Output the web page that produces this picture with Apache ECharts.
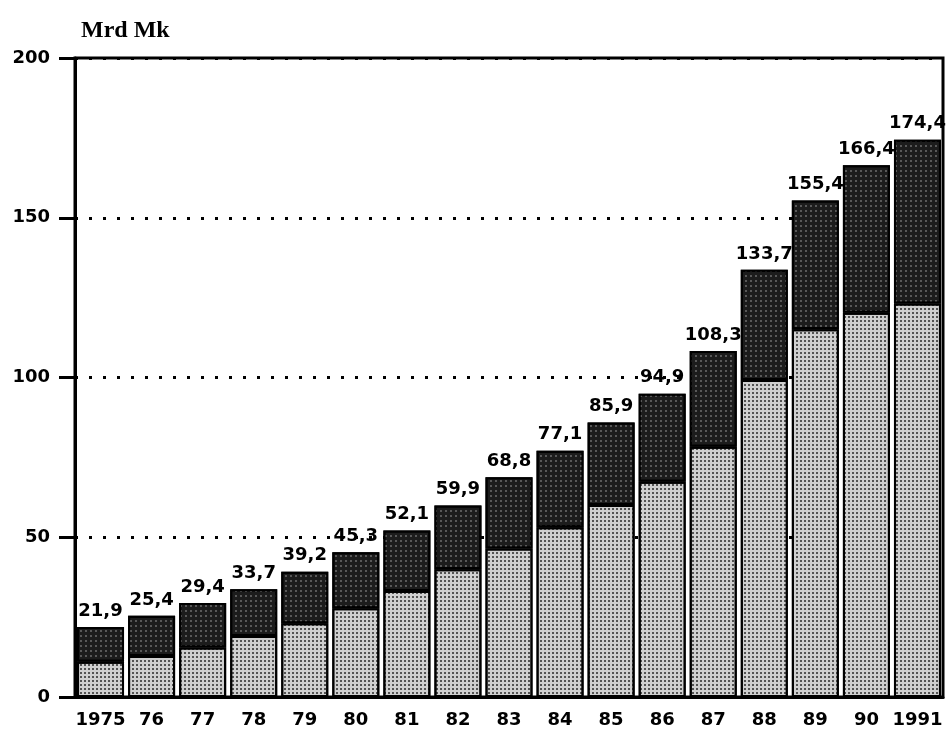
<!DOCTYPE html>
<html>
<head>
<meta charset="utf-8">
<title>Mrd Mk</title>
<script src="https://cdn.jsdelivr.net/npm/echarts@6/dist/echarts.min.js"></script>
<style>
  html, body { margin: 0; padding: 0; background: #fff; }
  #chart { width: 949px; height: 737px; }
</style>
</head>
<body>
<div id="chart"></div>
<script>
// Jahre (x-Achse)
const years = ["1975", "76", "77", "78", "79", "80", "81", "82", "83", "84", "85", "86", "87", "88", "89", "90", "1991"];
// unterer (heller) Teil der Säule
const lowerPart = [11.0, 12.8, 15.5, 19.1, 23.1, 27.8, 33.2, 40.0, 46.5, 53.1, 60.1, 67.4, 78.3, 99.2, 115.1, 120.3, 123.2];
// oberer (dunkler) Teil der Säule
const upperPart = [10.9, 12.6, 13.9, 14.6, 16.1, 17.5, 18.9, 19.9, 22.3, 24.0, 25.8, 27.5, 30.0, 34.5, 40.3, 46.1, 51.2];
// Summen über den Säulen
const totalLabels = ["21,9", "25,4", "29,4", "33,7", "39,2", "45,3", "52,1", "59,9", "68,8", "77,1", "85,9", "94,9", "108,3", "133,7", "155,4", "166,4", "174,4"];
// y-Achse
const yTicks = [0, 50, 100, 150, 200];

const chart = echarts.init(document.getElementById("chart"), null, { renderer: "canvas" });

const boldFont = {
  fontFamily: "DejaVu Sans",
  fontWeight: "bold",
  fontSize: 18,
  color: "#000",
};

const option = {
  backgroundColor: "#fff",
  animation: false,
  aria: { enabled: true, decal: { show: true } },
  title: {
    text: "Mrd Mk",
    left: 76,
    top: 14,
    textStyle: {
      fontFamily: "Liberation Serif",
      fontWeight: "bold",
      fontSize: 24,
      color: "#000",
    },
  },
  grid: {
    left: 75,
    right: 6,
    top: 58,
    bottom: 40,
    show: true,
    borderColor: "#000",
    borderWidth: 3,
  },
  xAxis: {
    type: "category",
    data: years,
    axisLine: { lineStyle: { color: "#000", width: 3 } },
    axisTick: { show: false },
    axisLabel: Object.assign({ margin: 14, interval: 0 }, boldFont),
  },
  yAxis: {
    type: "value",
    min: yTicks[0],
    max: yTicks[yTicks.length - 1],
    interval: 50,
    axisLine: { show: true, lineStyle: { color: "#000", width: 3 } },
    axisTick: { show: true, length: 16, lineStyle: { color: "#000", width: 3 } },
    axisLabel: Object.assign({ margin: 25 }, boldFont),
    splitLine: {
      show: true,
      lineStyle: { color: "#000", width: 3, type: [3, 11] },
    },
  },
  series: [
    {
      name: "unten",
      type: "bar",
      stack: "gesamt",
      data: lowerPart,
      barWidth: 47,
      itemStyle: {
        color: "#cfcfcf",
        borderColor: "#000",
        borderWidth: 2,
        decal: {
          symbol: "rect",
          symbolSize: 1,
          color: "rgba(0,0,0,0.6)",
          dashArrayX: [2, 2],
          dashArrayY: [2, 2],
          rotation: 0,
        },
      },
    },
    {
      name: "oben",
      type: "bar",
      stack: "gesamt",
      data: upperPart,
      barWidth: 47,
      itemStyle: {
        color: "#1c1c1c",
        borderColor: "#000",
        borderWidth: 2,
        decal: {
          symbol: "rect",
          symbolSize: 0.8,
          color: "rgba(255,255,255,0.45)",
          dashArrayX: [2, 3],
          dashArrayY: [2, 3],
          rotation: 0,
        },
      },
      label: Object.assign(
        {
          show: true,
          position: "top",
          distance: 7,
          formatter: (p) => totalLabels[p.dataIndex],
        },
        boldFont
      ),
    },
  ],
};

chart.setOption(option);
</script>
</body>
</html>
